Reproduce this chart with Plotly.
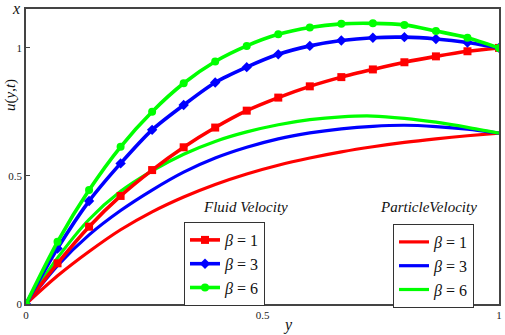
import plotly.graph_objects as go

y_grid = [k / 15 for k in range(16)]

fluid_b1 = [0, 0.159, 0.302, 0.422, 0.523, 0.612, 0.689, 0.755, 0.806, 0.850, 0.886, 0.916, 0.944, 0.967, 0.987, 1.0]
fluid_b3 = [0, 0.217, 0.402, 0.549, 0.680, 0.777, 0.865, 0.925, 0.975, 1.008, 1.029, 1.040, 1.042, 1.035, 1.021, 1.0]
fluid_b6 = [0, 0.243, 0.445, 0.614, 0.751, 0.862, 0.947, 1.008, 1.053, 1.080, 1.094, 1.096, 1.090, 1.066, 1.040, 1.0]

part_b1 = [0, 0.110, 0.205, 0.290, 0.360, 0.418, 0.467, 0.508, 0.542, 0.570, 0.594, 0.614, 0.631, 0.645, 0.657, 0.667]
part_b3 = [0, 0.150, 0.270, 0.365, 0.445, 0.515, 0.570, 0.612, 0.645, 0.668, 0.684, 0.694, 0.698, 0.693, 0.683, 0.667]
part_b6 = [0, 0.180, 0.330, 0.440, 0.520, 0.585, 0.635, 0.672, 0.700, 0.720, 0.731, 0.734, 0.725, 0.710, 0.690, 0.667]

labels = ["<i>β</i> = 1", "<i>β</i> = 3", "<i>β</i> = 6"]
colors = ["#ff0000", "#0000ff", "#00ff00"]
symbols = ["square", "diamond", "circle"]

SERIF = "Liberation Serif, Times New Roman, serif"

fig = go.Figure()

for vals, lab, col in zip([part_b1, part_b3, part_b6], labels, colors):
    fig.add_trace(go.Scatter(x=y_grid, y=vals, mode="lines", name=lab,
                             line=dict(color=col, width=3.2, shape="spline", smoothing=0.8),
                             legend="legend2"))

for vals, lab, col, sym in zip([fluid_b1, fluid_b3, fluid_b6], labels, colors, symbols):
    fig.add_trace(go.Scatter(x=y_grid, y=vals, mode="lines+markers", name=lab,
                             line=dict(color=col, width=3.6, shape="spline", smoothing=0.8),
                             marker=dict(color=col, symbol=sym, size=8),
                             legend="legend"))

L, R, T, B, W, H = 26, 6, 9, 31, 505, 335

fig.update_layout(
    template="none",
    width=W, height=H,
    margin=dict(l=L, r=R, t=T, b=B, pad=0),
    paper_bgcolor="white", plot_bgcolor="white",
    showlegend=True,
    font=dict(family=SERIF, color="#222"),
    xaxis=dict(range=[0, 1], tickvals=[0, 0.5, 1], ticktext=["0", "0.5", "1"],
               automargin=False,
               showgrid=False, zeroline=False, showline=True, mirror=True,
               linecolor="#444", linewidth=1.5, ticks="inside", ticklen=4,
               tickcolor="#444", tickfont=dict(size=11, family=SERIF, color="#222")),
    yaxis=dict(range=[0, 1.152], tickvals=[0, 0.5, 1], ticktext=["0", "0.5", "1"],
               automargin=False,
               showgrid=False, zeroline=False, showline=True, mirror=True,
               linecolor="#444", linewidth=1.5, ticks="inside", ticklen=4,
               tickcolor="#444", tickfont=dict(size=11, family=SERIF, color="#222")),
    legend=dict(x=(184 - L) / (W - L - R), y=(H - B - 222) / (H - T - B),
                xanchor="left", yanchor="top",
                bordercolor="#333", borderwidth=1, bgcolor="white",
                font=dict(size=16, family=SERIF, color="#111"),
                itemwidth=30, tracegroupgap=0),
    legend2=dict(x=(393 - L) / (W - L - R), y=(H - B - 224) / (H - T - B),
                 xanchor="left", yanchor="top",
                 bordercolor="#333", borderwidth=1, bgcolor="white",
                 font=dict(size=16, family=SERIF, color="#111"),
                 itemwidth=30, tracegroupgap=0),
)

# annotations placed at pixel positions converted to paper coordinates
pw, ph = W - L - R, H - T - B
ann_specs = [
    ("<i>Fluid Velocity</i>", 245, 207, 15, 0),
    ("<i>ParticleVelocity</i>", 428, 207, 15, 0),
    ("<i>x</i>", 16, 8, 16, 0),
    ("<i>u</i>(<i>y</i>,<i>t</i>)", 11, 95, 15, -90),
    ("<i>y</i>", 288, 325, 16, 0),
]
for text, px, py, size, ang in ann_specs:
    fig.add_annotation(text=text, x=(px - L) / pw, y=(H - B - py) / ph,
                       xref="paper", yref="paper", xanchor="center", yanchor="middle",
                       showarrow=False, textangle=ang,
                       font=dict(size=size, family=SERIF, color="#111"))

fig.write_html("out.html",
               config={"displayModeBar": False},
               post_script="document.body.style.margin='0';document.body.style.padding='0';")
